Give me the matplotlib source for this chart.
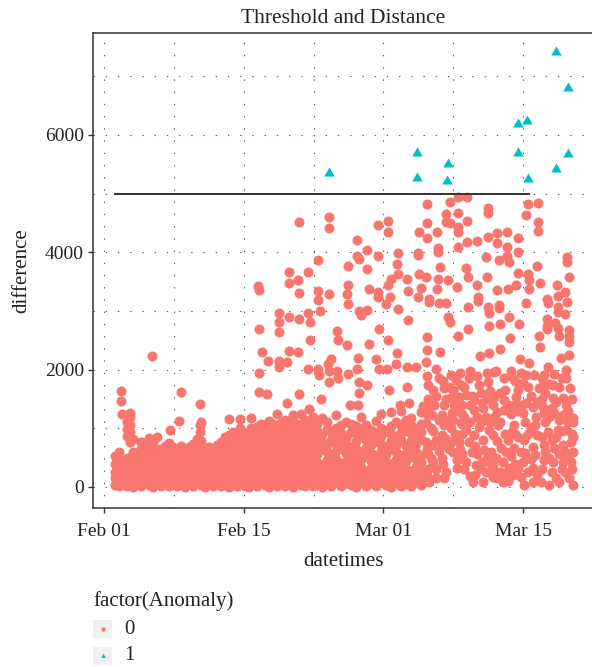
import matplotlib
matplotlib.use('Agg')
import matplotlib.pyplot as plt
import matplotlib.dates as mdates
from matplotlib.patches import Rectangle
from datetime import datetime, timedelta

# ---------------- data (day offset from Feb 01 2021, difference) ----------------
start_date = datetime(2021, 2, 1)

normal_week1 = [
    (1.1, [40, 150, 260, 390, 520]),
    (1.5, [10, 120, 230, 340, 460, 590]),
    (1.7, [1466, 1636]),
    (1.8, [1244]),
    (1.9, [70, 190, 300, 420]),
    (2.3, [20, 140, 250, 380, 500, 870, 980, 1100]),
    (2.6, [60, 180, 310, 440, 760, 940, 1060, 1200, 1260]),
    (2.9, [0, 110, 230, 350, 470, 590, 820]),
    (3.3, [50, 170, 290, 410, 530]),
    (3.7, [10, 130, 250, 380, 500, 640, 760]),
    (4.1, [80, 200, 320, 440, 560, 700]),
    (4.5, [30, 150, 270, 400, 520, 650, 840]),
    (4.8, [2230]),
    (4.9, [0, 100, 220, 350, 470, 600, 730]),
    (5.3, [60, 180, 300, 420, 560, 850]),
    (5.7, [20, 140, 260, 390, 510, 640]),
    (6.1, [90, 210, 330, 450, 580, 700]),
    (6.5, [10, 130, 250, 370, 500, 620, 750]),
    (6.6, [970]),
    (6.9, [50, 170, 290, 420, 540, 680]),
]

normal_week2 = [
    (7.3, [20, 140, 260, 380, 500, 630]),
    (7.5, [1125]),
    (7.7, [70, 190, 310, 440, 560, 700, 1619]),
    (8.1, [0, 120, 240, 360, 480, 610]),
    (8.5, [50, 170, 290, 410, 540, 680]),
    (8.9, [10, 130, 250, 370, 490, 620, 740]),
    (9.3, [80, 200, 320, 440, 570, 690, 810]),
    (9.6, [940, 1060, 1415]),
    (9.7, [30, 150, 270, 390, 520, 650, 780, 1100]),
    (10.1, [0, 110, 230, 350, 480, 600]),
    (10.5, [60, 180, 300, 420, 550, 690]),
    (10.9, [20, 140, 260, 380, 510, 640]),
    (11.3, [90, 210, 330, 450, 580, 710]),
    (11.7, [10, 130, 250, 370, 490, 620, 760]),
    (12.1, [60, 180, 300, 420, 550, 680, 850]),
    (12.5, [0, 120, 240, 360, 480, 610, 740, 880, 1160]),
    (12.9, [40, 160, 290, 410, 530, 660, 800, 930]),
    (13.3, [10, 130, 250, 370, 500, 630, 760, 900]),
    (13.6, [1010, 1160]),
    (13.7, [70, 190, 310, 440, 560, 690, 820]),
    (14.1, [20, 150, 270, 390, 520, 650, 780, 920]),
    (14.5, [0, 110, 230, 350, 470, 600, 730, 860]),
    (14.7, [1000, 1176]),
]

normal_week3 = [
    (14.9, [50, 170, 290, 410, 540, 670, 800, 940]),
    (15.3, [10, 130, 250, 380, 500, 630, 760, 890, 1020]),
    (15.4, [3426]),
    (15.5, [1619, 1943, 2693, 3360]),
    (15.7, [70, 190, 310, 430, 560, 690, 820, 950, 1080]),
    (15.8, [2300]),
    (16.1, [30, 150, 270, 390, 520, 650, 780, 910, 1050]),
    (16.3, [1580]),
    (16.4, [2148]),
    (16.5, [0, 120, 240, 360, 480, 610, 740, 870, 1000, 1130]),
    (16.9, [60, 180, 300, 420, 550, 680, 810, 940, 1070]),
    (17.3, [20, 140, 260, 380, 510, 640, 770, 900, 1030, 1250]),
    (17.5, [2040, 2148, 2636, 2807, 2966]),
    (17.7, [80, 200, 320, 440, 570, 700, 830, 960, 1090]),
    (18.1, [10, 130, 250, 370, 500, 630, 760, 890, 1020, 1150]),
    (18.35, [1426, 2125]),
    (18.5, [50, 170, 290, 410, 540, 670, 800, 930, 1060, 2324, 2892, 3472, 3670]),
    (18.9, [0, 110, 230, 350, 470, 600, 730, 860, 990, 1120, 1230]),
    (19.3, [70, 190, 310, 430, 560, 690, 820, 950, 1080]),
    (19.4, [2296, 3523]),
    (19.5, [1580, 2864, 3312, 4512]),
    (19.7, [30, 150, 270, 390, 520, 650, 780, 910, 1040, 1250]),
    (20.1, [10, 130, 250, 380, 500, 630, 760, 890, 1020, 1150]),
    (20.4, [2006, 2966, 3670]),
    (20.5, [60, 180, 300, 420, 550, 680, 810, 940, 1070, 1330]),
    (20.6, [2510, 2818]),
    (20.9, [20, 140, 260, 380, 510, 640, 770, 900, 1030, 1200]),
]

normal_late_feb = [
    (21.3, [40, 170, 300, 430, 560, 690, 820, 950, 1080]),
    (21.4, [2006, 3187, 3346, 3864]),
    (21.5, [1909]),
    (21.6, [2994]),
    (21.7, [1500]),
    (21.8, [0, 120, 250, 380, 640, 770, 900, 1180]),
    (22.3, [70, 200, 330, 460, 590, 720, 980, 1110]),
    (22.4, [2091]),
    (22.5, [1983, 3290, 4420, 4607]),
    (22.6, [1795]),
    (22.8, [20, 150, 280, 410, 540, 800, 930, 2182]),
    (23.3, [90, 220, 350, 480, 610, 740, 870, 1000, 1220]),
    (23.4, [1983, 2665]),
    (23.5, [1853, 2510]),
    (23.8, [10, 140, 270, 400, 660, 790, 920, 1050]),
    (24.3, [60, 190, 320, 450, 580, 710, 840, 1100]),
    (24.4, [2420, 3295]),
    (24.5, [1921, 3114, 3443, 3767]),
    (24.65, [1398]),
    (24.8, [30, 160, 290, 420, 550, 680, 940, 1070]),
    (25.3, [0, 130, 260, 390, 520, 650, 780, 910, 1040]),
    (25.4, [2006, 3937, 4216]),
    (25.5, [1398, 2194]),
    (25.6, [1597, 1795, 2994, 3886]),
    (25.8, [80, 210, 340, 470, 600, 860, 990, 1200, 2937]),
    (26.3, [20, 150, 280, 540, 670, 800, 930, 1060]),
    (26.4, [1739, 3022, 3721, 4046]),
    (26.6, [2432, 3370]),
    (26.8, [60, 190, 320, 450, 580, 710, 840, 970]),
    (27.3, [10, 140, 270, 400, 530, 790, 920, 1130, 2177]),
    (27.5, [3244, 3329, 3937, 4466]),
    (27.6, [2006, 2693]),
    (27.8, [90, 220, 350, 480, 610, 740, 870, 1000, 1240]),
]

normal_early_mar = [
    (28.3, [40, 170, 300, 430, 560, 690, 950, 3114]),
    (28.4, [2006]),
    (28.5, [2510, 3443, 4341, 4540]),
    (28.6, [1653]),
    (28.7, [3244]),
    (28.8, [0, 130, 260, 390, 650, 780, 910, 1040, 1270, 3545]),
    (29.3, [70, 200, 330, 460, 590, 720, 850, 1110, 2091]),
    (29.4, [2279, 3795]),
    (29.5, [3039, 3636, 3989]),
    (29.7, [1398]),
    (29.8, [20, 150, 280, 410, 540, 800, 930, 1060, 1300]),
    (30.3, [50, 180, 310, 440, 570, 700, 960, 1150]),
    (30.4, [1710, 2051, 3540]),
    (30.5, [2847, 3341]),
    (30.6, [1426]),
    (30.8, [10, 140, 270, 530, 660, 790, 920, 1050, 1180]),
    (31.3, [80, 210, 340, 470, 600, 730, 860, 990, 2051]),
    (31.45, [3244, 3955, 3989]),
    (31.6, [3636, 4341]),
    (31.75, [3397]),
    (31.8, [30, 160, 290, 420, 550, 810, 940, 1070, 1270]),
    (32.0, [1381]),
    (32.25, [773, 1085]),
    (32.3, [2125, 3585]),
    (32.4, [200, 650, 1250, 1900, 2335, 2562, 4238, 4494, 4818]),
    (32.5, [300, 560, 1500, 1739]),
    (32.6, [90, 1369, 3159, 3210]),
    (32.76, [488, 1000]),
    (32.9, [716, 1227]),
    (33.0, [420, 950, 1650]),
    (33.1, [1398]),
    (33.26, [148]),
    (33.3, [300, 800, 1550, 2006]),
    (33.4, [3370, 4341]),
    (33.5, [3540, 4000, 4073]),
    (33.6, [620, 1150, 1850, 3142]),
    (33.65, [3744]),
    (33.7, [2296]),
    (33.9, [488, 716, 886, 1227]),
    (34.0, [400, 1800]),
    (34.1, [148, 1057, 1398, 1682]),
    (34.3, [250, 820, 1500, 3142, 4511, 4647]),
    (34.5, [2892, 3523]),
    (34.6, [650, 1150, 1700]),
    (34.7, [2818, 4494, 4863]),
    (34.8, [773, 1000, 1909]),
    (34.9, [1256, 1540]),
    (35.0, [600, 1140, 1650]),
    (35.1, [1398]),
    (35.2, [900, 1300]),
    (35.3, [1824]),
]

normal_mid_mar = [
    (35.4, [318, 460, 3415]),
    (35.5, [2574, 4096, 4341, 4437, 4665, 4948]),
    (35.6, [773, 1540]),
    (35.7, [650, 1950]),
    (35.8, [1085, 1739]),
    (35.9, [560, 900, 1250, 1398]),
    (36.1, [300, 1200, 1700]),
    (36.3, [432, 972, 1568, 3727]),
    (36.4, [4170, 4539, 4948]),
    (36.5, [2693, 3074, 3585]),
    (36.6, [773, 1852]),
    (36.7, [180, 1100, 1400, 1980]),
    (36.9, [600, 1550]),
    (36.95, [90]),
    (37.1, [886, 1312, 1483]),
    (37.2, [200, 700]),
    (37.3, [375]),
    (37.4, [560, 1200, 1900, 3443, 4193]),
    (37.45, [3176, 3233]),
    (37.6, [1028, 1739]),
    (37.7, [2238]),
    (37.8, [300, 1100, 1600]),
    (37.9, [432, 1426]),
    (37.95, [90]),
    (38.0, [800, 1350]),
    (38.1, [630]),
    (38.3, [261, 1199, 3915]),
    (38.35, [3585]),
    (38.4, [500, 1500, 1950]),
    (38.45, [1795, 3074, 4267, 4676, 4761]),
    (38.6, [972, 2279, 2744, 2971]),
    (38.7, [410, 1100, 1640]),
    (38.8, [602]),
    (38.95, [176, 261]),
    (39.0, [380, 880, 1400]),
    (39.1, [1199, 1540, 1966]),
    (39.3, [488, 1983]),
    (39.35, [3358]),
    (39.4, [150, 780, 1280, 4153, 4324]),
    (39.45, [1057]),
    (39.55, [3045, 3102, 3870]),
    (39.7, [250, 1100, 1600, 2347, 2773]),
    (39.8, [659]),
    (39.96, [90, 432]),
    (40.1, [1312, 1483, 1852]),
    (40.2, [230, 900, 1650]),
    (40.3, [602]),
    (40.4, [3944, 4096, 4341]),
    (40.5, [100, 800, 1400, 3370]),
    (40.55, [2892]),
    (40.6, [318, 3840]),
    (40.7, [2534]),
    (40.8, [520, 915, 1240, 1980]),
    (40.96, [204, 1852]),
    (41.1, [659, 1057, 1398]),
    (41.2, [400, 900, 1800]),
    (41.3, [1540, 3443]),
    (41.5, [330, 850, 1300, 1650, 3642, 4000, 4238]),
    (41.55, [2773]),
    (41.7, [2177]),
    (41.8, [176, 600, 1400, 1950]),
    (41.97, [432, 1767]),
    (42.0, [1256]),
    (42.1, [34, 801]),
    (42.2, [580, 1100]),
    (42.3, [1426, 1909, 3142, 4636]),
]

normal_late_mar = [
    (42.5, [250, 900, 1700, 3636, 4818]),
    (42.6, [2119, 3370, 3523]),
    (42.8, [470, 1000, 1550]),
    (42.97, [90, 318, 687, 1369]),
    (43.1, [1909]),
    (43.2, [550, 1050]),
    (43.3, [1199]),
    (43.4, [230, 880, 1450, 3767]),
    (43.5, [4369, 4522, 4846]),
    (43.6, [1682, 2574]),
    (43.7, [2392, 3472]),
    (43.8, [90]),
    (43.9, [300, 850, 1500, 1850]),
    (44.0, [1369, 1739]),
    (44.1, [460, 716, 1256, 1909]),
    (44.2, [600, 1100, 1600]),
    (44.4, [2687, 2744, 2858, 3199]),
    (44.5, [943, 2051, 3142]),
    (44.6, [34, 500, 1200, 1750]),
    (44.9, [250, 800, 1350]),
    (45.0, [432, 1511, 1739]),
    (45.1, [659, 1256, 1921]),
    (45.2, [2790]),
    (45.3, [150, 850, 1450]),
    (45.4, [3443]),
    (45.5, [972, 2705]),
    (45.55, [2988, 3074, 3255]),
    (45.6, [560, 1150, 1700]),
    (45.65, [90, 2574]),
    (45.8, [2194]),
    (45.9, [300, 950, 1850]),
    (46.0, [432, 716, 1227, 1511]),
    (46.2, [250, 600, 1250, 2949, 3323]),
    (46.3, [972, 1398, 1852, 1994]),
    (46.4, [3159, 3830, 3915]),
    (46.5, [500, 1100, 1300]),
    (46.6, [2477, 2574, 2676, 3585]),
    (46.65, [148, 2250]),
    (46.7, [1682]),
    (46.8, [432, 773]),
    (46.9, [300, 900, 1500]),
    (47.0, [34, 602, 850, 1114, 1170]),
]

anomaly_days = [22.5, 31.4, 31.4, 34.4, 34.5, 41.5, 41.5, 42.4, 42.5, 45.3, 45.3, 46.5, 46.5]
anomaly_values = [5346, 5272, 5698, 5216, 5500, 5698, 6187, 6244, 5244, 5415, 7420, 5676, 6795]

threshold_value = 5000
threshold_days = [1.1, 42.6]

legend_title = "factor(Anomaly)"
legend_labels = ["0", "1"]
colors = {"0": "#F8766D", "1": "#00BFC4"}

# ---------------- build arrays ----------------
def to_date(d):
    return start_date + timedelta(days=d)

normal_x, normal_y = [], []
for group in (normal_week1, normal_week2, normal_week3, normal_late_feb,
              normal_early_mar, normal_mid_mar, normal_late_mar):
    for d, vals in group:
        for v in vals:
            normal_x.append(to_date(d))
            normal_y.append(v)
anom_x = [to_date(d) for d in anomaly_days]

# ---------------- figure ----------------
W, H = 592, 667
fig = plt.figure(figsize=(W / 100, H / 100), dpi=100)
serif = ['Liberation Serif', 'DejaVu Serif']
plt.rcParams['font.family'] = serif
txt = '#222222'
dark = '#333333'

ax = fig.add_axes([93 / W, 1 - 508 / H, (W - 93) / W + 0.002, (508 - 33) / H])
ax.set_axisbelow(True)

ax.scatter(normal_x, normal_y, s=52, c=colors["0"], linewidths=0, zorder=2)
ax.scatter(anom_x, anomaly_values, s=76, marker=(3, 0, 0), c=colors["1"], linewidths=0, zorder=3)
ax.plot([to_date(threshold_days[0]), to_date(threshold_days[1])], [threshold_value] * 2,
        color=dark, lw=1.4, zorder=4)

ax.set_xlim(to_date(-1.105), to_date(49.03))
ax.set_ylim(-358, 7738)

ax.xaxis.set_major_locator(mdates.DayLocator(bymonthday=[1, 15]))
ax.xaxis.set_minor_locator(mdates.DayLocator(bymonthday=[8, 22]))
ax.xaxis.set_major_formatter(mdates.DateFormatter('%b %d'))
ax.set_yticks([0, 2000, 4000, 6000])
ax.set_yticks([1000, 3000, 5000, 7000], minor=True)

ax.grid(which='both', linestyle=(0, (1.2, 9.8)), linewidth=0.8, color='#555555')
ax.tick_params(which='major', length=3.6, width=1.0, color=dark, labelsize=14,
               labelcolor=txt, pad=3)
ax.tick_params(which='minor', length=0)
ax.tick_params(axis='x', pad=7)
for side in ('left', 'bottom', 'top'):
    ax.spines[side].set_color(dark)
    ax.spines[side].set_linewidth(1.1)
ax.spines['right'].set_visible(False)

ax.set_title('Threshold and Distance', fontsize=15.5, color=txt, pad=7)
ax.set_xlabel('datetimes', fontsize=15, color=txt, labelpad=9)
ax.set_ylabel('difference', fontsize=15, color=txt, labelpad=10)

# ---------------- legend ----------------
lax = fig.add_axes([0, 0, 1, 1])
lax.set_xlim(0, W)
lax.set_ylim(H, 0)
lax.axis('off')
lax.patch.set_alpha(0)
lax.text(93, 601, legend_title, fontsize=15, color=txt, va='center', ha='left')
key_y = [629, 656]
for lab, ky, mk, ms in zip(legend_labels, key_y, ['o', (3, 0, 0)], [10, 16]):
    lax.add_patch(Rectangle((93, ky - 9), 19, 18, facecolor='#f0f0f0', edgecolor='none'))
    lax.scatter([102.5], [ky], s=ms, marker=mk, c=colors[lab], linewidths=0)
    lax.text(124, ky, lab, fontsize=15, color=txt, va='center', ha='left')

fig.savefig('out.png', dpi=100)
